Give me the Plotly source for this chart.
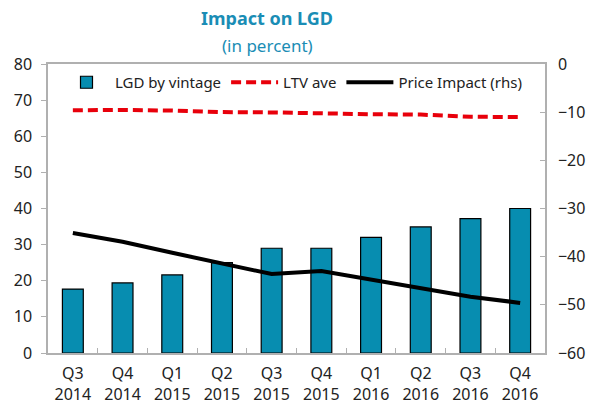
import plotly.graph_objects as go

categories = ["Q3<br>2014", "Q4<br>2014", "Q1<br>2015", "Q2<br>2015", "Q3<br>2015",
              "Q4<br>2015", "Q1<br>2016", "Q2<br>2016", "Q3<br>2016", "Q4<br>2016"]
lgd_by_vintage = [17.7, 19.4, 21.6, 25.0, 29.0, 29.0, 32.0, 34.9, 37.2, 40.0]
ltv_ave = [67.2, 67.3, 67.1, 66.7, 66.6, 66.3, 66.1, 66.0, 65.4, 65.3]
price_impact = [-35.1, -36.9, -39.2, -41.5, -43.6, -43.0, -44.8, -46.7, -48.3, -49.6]

FONT = "Noto Sans"
TITLE_COLOR = "#1a8db5"
AXIS_COLOR = "#b0b0b0"

W, H = 589, 408
ML, MR, MT, MB = 48, 44, 64, 55

fig = go.Figure()
fig.add_trace(go.Bar(
    x=categories, y=lgd_by_vintage, name="LGD by vintage",
    marker=dict(color="#078db0", line=dict(color="black", width=1.2)),
    width=0.42,
))
fig.add_trace(go.Scatter(
    x=categories, y=ltv_ave, name="LTV ave", mode="lines",
    line=dict(color="#e8000b", width=4, dash="10px,5px"),
))
fig.add_trace(go.Scatter(
    x=categories, y=price_impact, name="Price Impact (rhs)", mode="lines",
    line=dict(color="black", width=4), yaxis="y2",
))

pw = W - ML - MR
ph = H - MT - MB
def px(x):
    return (x - ML) / pw
def py(y):
    return (H - MB - y) / ph

fig.update_layout(
    width=W, height=H,
    margin=dict(l=ML, r=MR, t=MT, b=MB, autoexpand=False),
    paper_bgcolor="white", plot_bgcolor="white",
    font=dict(family=FONT, size=15, color="#222222"),
    showlegend=True,
    legend=dict(orientation="h", x=px(58), y=py(66), xanchor="left", yanchor="top",
                bgcolor="rgba(0,0,0,0)", font=dict(size=15), itemwidth=47,
                tracegroupgap=0),
    xaxis=dict(
        type="category", showline=True, linecolor=AXIS_COLOR, linewidth=1.5,
        mirror=True, ticks="inside", tickson="boundaries", ticklen=5,
        tickcolor=AXIS_COLOR, showgrid=False, tickfont=dict(size=16),
        ticklabelstandoff=5,
    ),
    yaxis=dict(
        range=[0, 80], dtick=10, showline=True, linecolor=AXIS_COLOR, linewidth=1.5,
        ticks="outside", ticklen=5, tickcolor=AXIS_COLOR, showgrid=False,
        zeroline=False, tickfont=dict(size=16), ticklabelstandoff=6,
    ),
    yaxis2=dict(
        range=[-60, 0], dtick=10, overlaying="y", side="right", showline=True,
        linecolor=AXIS_COLOR, linewidth=1.5, ticks="inside", ticklen=5,
        tickcolor=AXIS_COLOR, showgrid=False, zeroline=False,
        tickfont=dict(size=16), ticklabelstandoff=8,
    ),
    annotations=[
        dict(text="<b>Impact on LGD</b>", x=px(267), y=py(18), xref="paper", yref="paper",
             xanchor="center", yanchor="middle", showarrow=False,
             font=dict(size=18, color=TITLE_COLOR)),
        dict(text="(in percent)", x=px(267), y=py(46), xref="paper", yref="paper",
             xanchor="center", yanchor="middle", showarrow=False,
             font=dict(size=17, color=TITLE_COLOR)),
    ],
)

fig.write_html("out.html", config={"displayModeBar": False},
               post_script="document.body.style.margin='0px';")
